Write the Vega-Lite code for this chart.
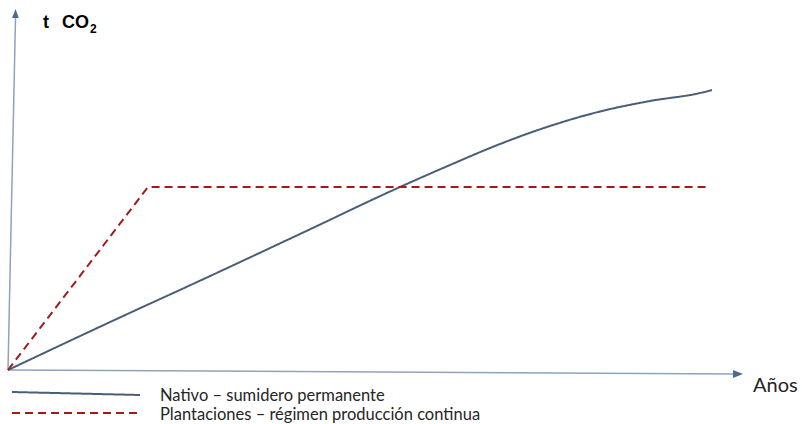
{
  "$schema": "https://vega.github.io/schema/vega-lite/v6.json",
  "width": 802,
  "height": 424,
  "padding": 0,
  "autosize": "none",
  "config": {"view": {"stroke": null}},
  "datasets": {
    "axes": [
      {"axis": "y", "x": 0, "y": 0, "x2": 7.5, "y2": 352},
      {"axis": "x", "x": 0, "y": 0, "x2": 726, "y2": -4}
    ],
    "series": [
      {"series": "Nativo – sumidero permanente", "x": 0, "y": 0},
      {"series": "Nativo – sumidero permanente", "x": 100, "y": 47},
      {"series": "Nativo – sumidero permanente", "x": 200, "y": 93},
      {"series": "Nativo – sumidero permanente", "x": 292, "y": 136},
      {"series": "Nativo – sumidero permanente", "x": 392, "y": 183},
      {"series": "Nativo – sumidero permanente", "x": 442, "y": 205},
      {"series": "Nativo – sumidero permanente", "x": 492, "y": 226},
      {"series": "Nativo – sumidero permanente", "x": 542, "y": 244},
      {"series": "Nativo – sumidero permanente", "x": 592, "y": 258.5},
      {"series": "Nativo – sumidero permanente", "x": 642, "y": 269},
      {"series": "Nativo – sumidero permanente", "x": 692, "y": 277},
      {"series": "Nativo – sumidero permanente", "x": 704, "y": 280},
      {"series": "Plantaciones – régimen producción continua", "x": 0, "y": 0},
      {"series": "Plantaciones – régimen producción continua", "x": 140, "y": 183},
      {"series": "Plantaciones – régimen producción continua", "x": 700, "y": 183}
    ],
    "legend": [
      {"series": "Nativo – sumidero permanente", "x": 4, "y": -22, "x2": 132, "y2": -25, "lx": 152, "ly": -31},
      {"series": "Plantaciones – régimen producción continua", "x": 4, "y": -43, "x2": 130, "y2": -43, "lx": 152, "ly": -50}
    ]
  },
  "layer": [
    {
      "data": {"name": "axes"},
      "mark": {"type": "rule", "color": "#8fa3bb", "strokeWidth": 1.5},
      "encoding": {
        "x": {"field": "x", "type": "quantitative", "scale": {"domain": [-8, 794], "nice": false, "zero": false}, "axis": null},
        "y": {"field": "y", "type": "quantitative", "scale": {"domain": [-54, 370], "nice": false, "zero": false}, "axis": null},
        "x2": {"field": "x2"},
        "y2": {"field": "y2"}
      }
    },
    {
      "data": {"values": [{"x": 7.5, "y": 356.5}]},
      "mark": {"type": "point", "shape": "M0,-1L-0.75,1L0.75,1Z", "filled": true, "size": 81, "color": "#4a6a8f", "opacity": 1, "angle": 1.2},
      "encoding": {
        "x": {"field": "x", "type": "quantitative", "scale": {"domain": [-8, 794], "nice": false, "zero": false}, "axis": null},
        "y": {"field": "y", "type": "quantitative", "scale": {"domain": [-54, 370], "nice": false, "zero": false}, "axis": null}
      }
    },
    {
      "data": {"values": [{"x": 730, "y": -4}]},
      "mark": {"type": "point", "shape": "M1,0L-1,-0.8L-1,0.8Z", "filled": true, "size": 100, "color": "#4a6a8f", "opacity": 1},
      "encoding": {
        "x": {"field": "x", "type": "quantitative", "scale": {"domain": [-8, 794], "nice": false, "zero": false}, "axis": null},
        "y": {"field": "y", "type": "quantitative", "scale": {"domain": [-54, 370], "nice": false, "zero": false}, "axis": null}
      }
    },
    {
      "data": {"name": "series"},
      "transform": [{"filter": "datum.series === 'Nativo – sumidero permanente'"}],
      "mark": {"type": "line", "strokeWidth": 2, "interpolate": "monotone"},
      "encoding": {
        "x": {"field": "x", "type": "quantitative", "scale": {"domain": [-8, 794], "nice": false, "zero": false}, "axis": null},
        "y": {"field": "y", "type": "quantitative", "scale": {"domain": [-54, 370], "nice": false, "zero": false}, "axis": null},
        "color": {"field": "series", "type": "nominal", "scale": {"domain": ["Nativo – sumidero permanente", "Plantaciones – régimen producción continua"], "range": ["#4a5f75", "#a01c1c"]}, "legend": null},
        "strokeDash": {"field": "series", "type": "nominal", "scale": {"domain": ["Nativo – sumidero permanente", "Plantaciones – régimen producción continua"], "range": [[1, 0], [8, 5]]}, "legend": null}
      }
    },
    {
      "data": {"name": "series"},
      "transform": [{"filter": "datum.series === 'Plantaciones – régimen producción continua'"}],
      "mark": {"type": "line", "strokeWidth": 2, "interpolate": "linear"},
      "encoding": {
        "x": {"field": "x", "type": "quantitative", "scale": {"domain": [-8, 794], "nice": false, "zero": false}, "axis": null},
        "y": {"field": "y", "type": "quantitative", "scale": {"domain": [-54, 370], "nice": false, "zero": false}, "axis": null},
        "color": {"field": "series", "type": "nominal", "legend": null},
        "strokeDash": {"field": "series", "type": "nominal", "legend": null}
      }
    },
    {
      "data": {"name": "legend"},
      "mark": {"type": "rule", "strokeWidth": 2},
      "encoding": {
        "x": {"field": "x", "type": "quantitative", "scale": {"domain": [-8, 794], "nice": false, "zero": false}, "axis": null},
        "y": {"field": "y", "type": "quantitative", "scale": {"domain": [-54, 370], "nice": false, "zero": false}, "axis": null},
        "x2": {"field": "x2"},
        "y2": {"field": "y2"},
        "color": {"field": "series", "type": "nominal", "legend": null},
        "strokeDash": {"field": "series", "type": "nominal", "legend": null}
      }
    },
    {
      "data": {"name": "legend"},
      "mark": {"type": "text", "align": "left", "baseline": "alphabetic", "font": "Lato", "fontSize": 16.5, "color": "#262626"},
      "encoding": {
        "x": {"field": "lx", "type": "quantitative", "scale": {"domain": [-8, 794], "nice": false, "zero": false}, "axis": null},
        "y": {"field": "ly", "type": "quantitative", "scale": {"domain": [-54, 370], "nice": false, "zero": false}, "axis": null},
        "text": {"field": "series"}
      }
    },
    {
      "data": {"values": [{"label": "Años", "x": 745, "y": -22}]},
      "mark": {"type": "text", "align": "left", "baseline": "alphabetic", "font": "Lato", "fontSize": 20, "color": "#262626"},
      "encoding": {
        "x": {"field": "x", "type": "quantitative", "scale": {"domain": [-8, 794], "nice": false, "zero": false}, "axis": null},
        "y": {"field": "y", "type": "quantitative", "scale": {"domain": [-54, 370], "nice": false, "zero": false}, "axis": null},
        "text": {"field": "label"}
      }
    },
    {
      "data": {"values": [{"label": "t", "x": 35, "y": 342}, {"label": "CO", "x": 54, "y": 342}]},
      "mark": {"type": "text", "align": "left", "baseline": "alphabetic", "font": "Liberation Sans", "fontWeight": "bold", "fontSize": 18, "color": "#000000"},
      "encoding": {
        "x": {"field": "x", "type": "quantitative", "scale": {"domain": [-8, 794], "nice": false, "zero": false}, "axis": null},
        "y": {"field": "y", "type": "quantitative", "scale": {"domain": [-54, 370], "nice": false, "zero": false}, "axis": null},
        "text": {"field": "label"}
      }
    },
    {
      "data": {"values": [{"label": "2", "x": 82, "y": 337}]},
      "mark": {"type": "text", "align": "left", "baseline": "alphabetic", "font": "Liberation Sans", "fontWeight": "bold", "fontSize": 12, "color": "#000000"},
      "encoding": {
        "x": {"field": "x", "type": "quantitative", "scale": {"domain": [-8, 794], "nice": false, "zero": false}, "axis": null},
        "y": {"field": "y", "type": "quantitative", "scale": {"domain": [-54, 370], "nice": false, "zero": false}, "axis": null},
        "text": {"field": "label"}
      }
    }
  ]
}
